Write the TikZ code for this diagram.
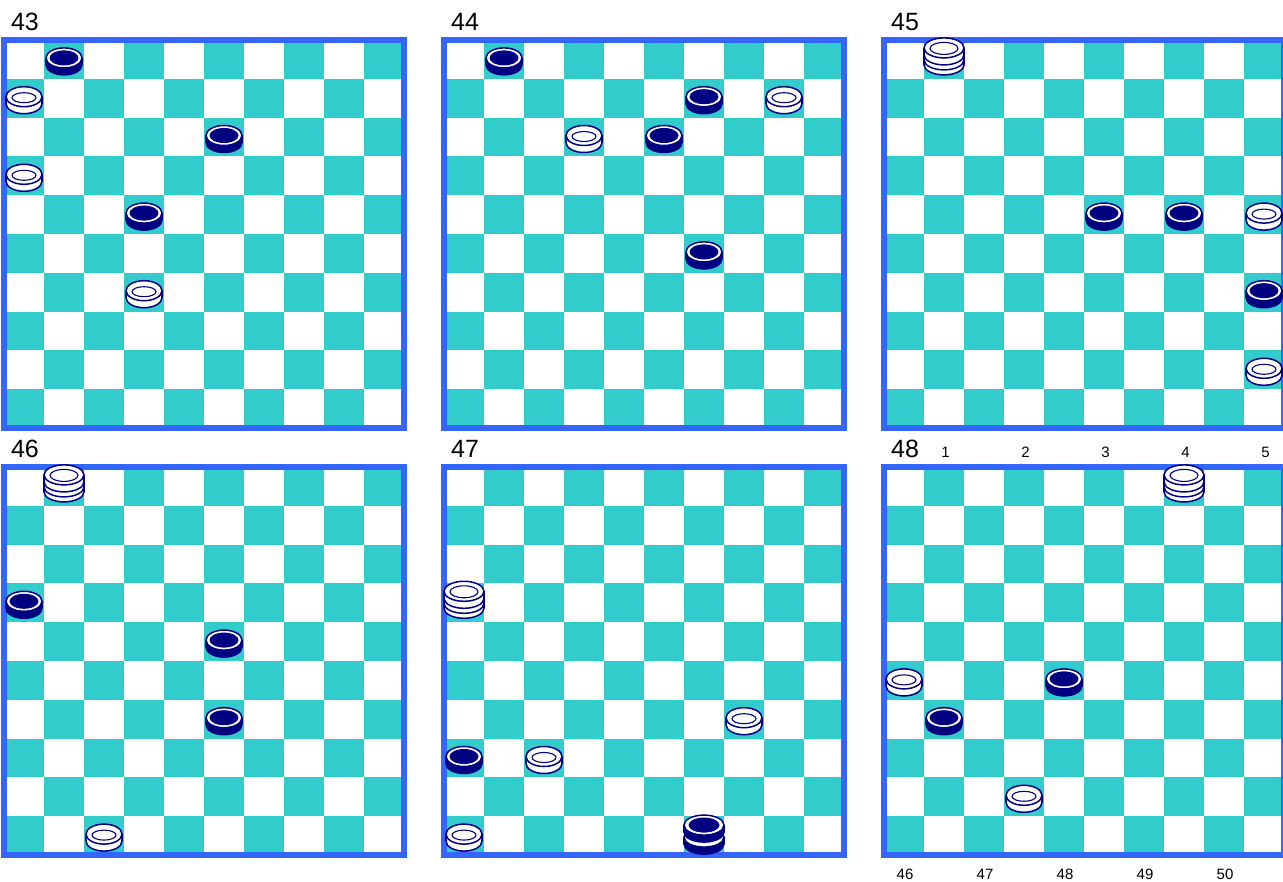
\documentclass[tikz,border=0pt]{standalone}
\usepackage{fontspec}
\setmainfont{Liberation Sans}
\definecolor{turkiz}{RGB}{51,204,204}
\definecolor{keretkek}{RGB}{51,102,255}
\definecolor{sotetkek}{RGB}{0,0,128}

% egy korong: #1 felso ellipszis kozepe, #2 sugar, #3 szin
\newcommand\korong[3]{%
  \filldraw[vonal,fill=#3] (0,#1+7) ellipse[x radius=#2pt,y radius=10pt];
  \fill[#3] (-#2,#1) rectangle (#2,#1+7);
  \draw[vonal] (-#2,#1) -- (-#2,#1+7) (#2,#1) -- (#2,#1+7);
  \filldraw[vonal,fill=white] (0,#1) ellipse[x radius=#2pt,y radius=10pt];}
% tabla mezokkel es kerettel
\newcommand\tabla{%
  \foreach \s in {1,...,10}
    \foreach \o in {1,3,...,9}
      \fill[mezo] ({40*(\o+mod(\s,2)-1)},{38.8*(\s-1)}) rectangle ++(40,38.8);
  \draw[keret] (0,0) rectangle (400,388);}
% babu: #1 sor, #2 oszlop, #3 fajta
\newcommand\babu[3]{\pic at ({40*(#2-.5)},{38.8*(#1-.5)}) {#3};}

\tikzset{
  mezo/.style={fill=turkiz},
  keret/.style={draw=keretkek,line width=6pt},
  vonal/.style={draw=sotetkek,line width=1.5pt},
  szam/.style={font=\fontsize{25}{25}\selectfont,inner sep=0pt},
  kisszam/.style={font=\fontsize{15}{15}\selectfont,inner sep=0pt},
  sotet/.pic={\korong{-1.5}{18}{sotetkek}
    \fill[sotetkek] (0,-1.5) ellipse[x radius=14.5pt,y radius=7.5pt];},
  feher/.pic={\korong{-1.5}{18}{white}
    \draw[vonal,line width=1.1pt] (0,-0.5) ellipse[x radius=12pt,y radius=5pt];},
  feherdama/.pic={\korong{-1.5}{20}{white}\korong{-6.5}{20}{white}\korong{-11.5}{20}{white}
    \draw[vonal,line width=1.1pt] (0,-11) ellipse[x radius=14pt,y radius=6pt];},
  sotetdama/.pic={\korong{1.5}{20}{sotetkek}\korong{-10.5}{20}{sotetkek}
    \fill[sotetkek] (0,-10.5) ellipse[x radius=15.5pt,y radius=7.5pt];},
}

\begin{document}
\begin{tikzpicture}[x=1pt,y=-1pt]
  \useasboundingbox (0,0) rectangle (1283,882);

  % 43
  \begin{scope}[shift={(4,40)}]
    \tabla
    \node[szam] (sz43) at (21,-18) {43};
    \babu{1}{2}{sotet} \babu{2}{1}{feher} \babu{3}{6}{sotet}
    \babu{4}{1}{feher} \babu{5}{4}{sotet} \babu{7}{4}{feher}
  \end{scope}

  % 44
  \begin{scope}[shift={(444,40)}]
    \tabla
    \node[szam] (sz44) at (21,-18) {44};
    \babu{1}{2}{sotet} \babu{2}{7}{sotet} \babu{2}{9}{feher}
    \babu{3}{4}{feher} \babu{3}{6}{sotet} \babu{6}{7}{sotet}
  \end{scope}

  % 45
  \begin{scope}[shift={(884,40)}]
    \tabla
    \node[szam] (sz45) at (21,-18) {45};
    \babu{1}{2}{feherdama} \babu{5}{6}{sotet} \babu{5}{8}{sotet}
    \babu{5}{10}{feher} \babu{7}{10}{sotet} \babu{9}{10}{feher}
  \end{scope}

  % 46
  \begin{scope}[shift={(4,467)}]
    \tabla
    \node[szam] (sz46) at (21,-18) {46};
    \babu{1}{2}{feherdama} \babu{4}{1}{sotet} \babu{5}{6}{sotet}
    \babu{7}{6}{sotet} \babu{10}{3}{feher}
  \end{scope}

  % 47
  \begin{scope}[shift={(444,467)}]
    \tabla
    \node[szam] (sz47) at (21,-18) {47};
    \babu{4}{1}{feherdama} \babu{7}{8}{feher} \babu{8}{1}{sotet}
    \babu{8}{3}{feher} \babu{10}{1}{feher} \babu{10}{7}{sotetdama}
  \end{scope}

  % 48, mezoszamokkal
  \begin{scope}[shift={(884,467)}]
    \tabla
    \node[szam] (sz48) at (21,-18.5) {48};
    \foreach \n [count=\i] in {1,...,5}
      \node[kisszam] (f\n) at ({40*(2*\i-.5)+1.5},-15) {\n};
    \foreach \n [count=\i] in {46,...,50}
      \node[kisszam] (a\n) at ({40*(2*\i-1.5)+1},407.5) {\n};
    \babu{1}{8}{feherdama} \babu{6}{1}{feher} \babu{6}{5}{sotet}
    \babu{7}{2}{sotet} \babu{9}{4}{feher}
  \end{scope}
\end{tikzpicture}
\end{document}
